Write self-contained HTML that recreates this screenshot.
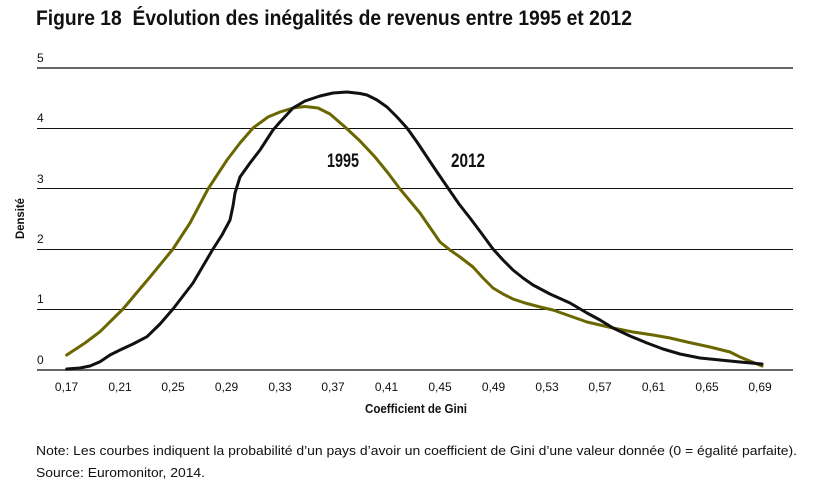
<!DOCTYPE html>
<html><head><meta charset="utf-8"><style>
html,body{margin:0;padding:0;background:#fff;}
svg{display:block;}
.n{font-family:"Liberation Sans Narrow","Liberation Sans",sans-serif;font-weight:bold;fill:#111;}
.r{font-family:"Liberation Sans",sans-serif;fill:#111;}
</style></head><body>
<svg width="820" height="482" viewBox="0 0 820 482" xmlns="http://www.w3.org/2000/svg">
<text class="n" x="36" y="25" font-size="21" textLength="596" lengthAdjust="spacingAndGlyphs">Figure 18&#160; Évolution des inégalités de revenus entre 1995 et 2012</text>
<g stroke="#111" stroke-width="1">
<line x1="37" y1="128.5" x2="793" y2="128.5"/>
<line x1="37" y1="188.5" x2="793" y2="188.5"/>
<line x1="37" y1="249.5" x2="793" y2="249.5"/>
<line x1="37" y1="309.5" x2="793" y2="309.5"/>
</g>
<line x1="37" y1="68" x2="793" y2="68" stroke="#666" stroke-width="2"/>
<line x1="37" y1="370" x2="793" y2="370" stroke="#666" stroke-width="2"/>
<g class="r" font-size="12">
<text x="37" y="62">5</text>
<text x="37" y="122">4</text>
<text x="37" y="183">3</text>
<text x="37" y="243">2</text>
<text x="37" y="303">1</text>
<text x="37" y="364">0</text>
</g>
<g class="r" font-size="12" text-anchor="middle">
<text x="66.5" y="391">0,17</text>
<text x="120" y="391">0,21</text>
<text x="173" y="391">0,25</text>
<text x="226.5" y="391">0,29</text>
<text x="280" y="391">0,33</text>
<text x="333" y="391">0,37</text>
<text x="386.5" y="391">0,41</text>
<text x="440" y="391">0,45</text>
<text x="493.5" y="391">0,49</text>
<text x="547" y="391">0,53</text>
<text x="600" y="391">0,57</text>
<text x="653.5" y="391">0,61</text>
<text x="707" y="391">0,65</text>
<text x="760" y="391">0,69</text>
</g>
<text class="n" x="365" y="413" font-size="13" textLength="102" lengthAdjust="spacingAndGlyphs">Coefficient de Gini</text>
<text class="n" font-size="12" text-anchor="middle" transform="translate(24,218.5) rotate(-90)" textLength="41" lengthAdjust="spacingAndGlyphs">Densité</text>
<polyline fill="none" stroke="#6b6700" stroke-width="3" stroke-linejoin="round" stroke-linecap="round" points="66.7,355 85,343 100,331.7 123,309 150,277 173,249 190,223 208,189 227,160 240,143 253,128 268,117 280,112 293,108 305,106.5 318,108 330,114 345,127 360,141 375,157 388,173 400,189 420,213 440,242 450,250 460,257 473,267 483,278 493,288 503,294 513,299 525,303 540,307 553,310 570,316 587,322 613,328 633,332 653,335 670,338 687,342 710,347 730,352 740,357 762,366"/>
<polyline fill="none" stroke="#111" stroke-width="3" stroke-linejoin="round" stroke-linecap="round" points="66.7,369 80,368 90,366 100,361.7 110,355 120,350 133,344 147,336.7 160,324 173,309 193,283 213,249 222,235 230,220 233,206 235,193 240,177 250,163 260,150 273,130 280,122 293,108 305,101 320,96 333,93 347,92 360,93.5 367,95 377,100 387,107 397,117 407,128 417,142 427,157 437,172 448,188 459,204 470,218 482,234 493,249 503,260 513,270 523,278 533,285 550,294 570,303 587,313 600,320 613,328 630,336 647,343 663,349 680,354 700,358 720,360 740,362 762,364"/>
<text class="n" x="327" y="167" font-size="19" textLength="32" lengthAdjust="spacingAndGlyphs">1995</text>
<text class="n" x="451" y="167" font-size="19" textLength="34" lengthAdjust="spacingAndGlyphs">2012</text>
<text class="r" x="36" y="455" font-size="13" textLength="761" lengthAdjust="spacingAndGlyphs">Note: Les courbes indiquent la probabilité d’un pays d’avoir un coefficient de Gini d’une valeur donnée (0 = égalité parfaite).</text>
<text class="r" x="36" y="477" font-size="13" textLength="169" lengthAdjust="spacingAndGlyphs">Source: Euromonitor, 2014.</text>
</svg>
</body></html>
